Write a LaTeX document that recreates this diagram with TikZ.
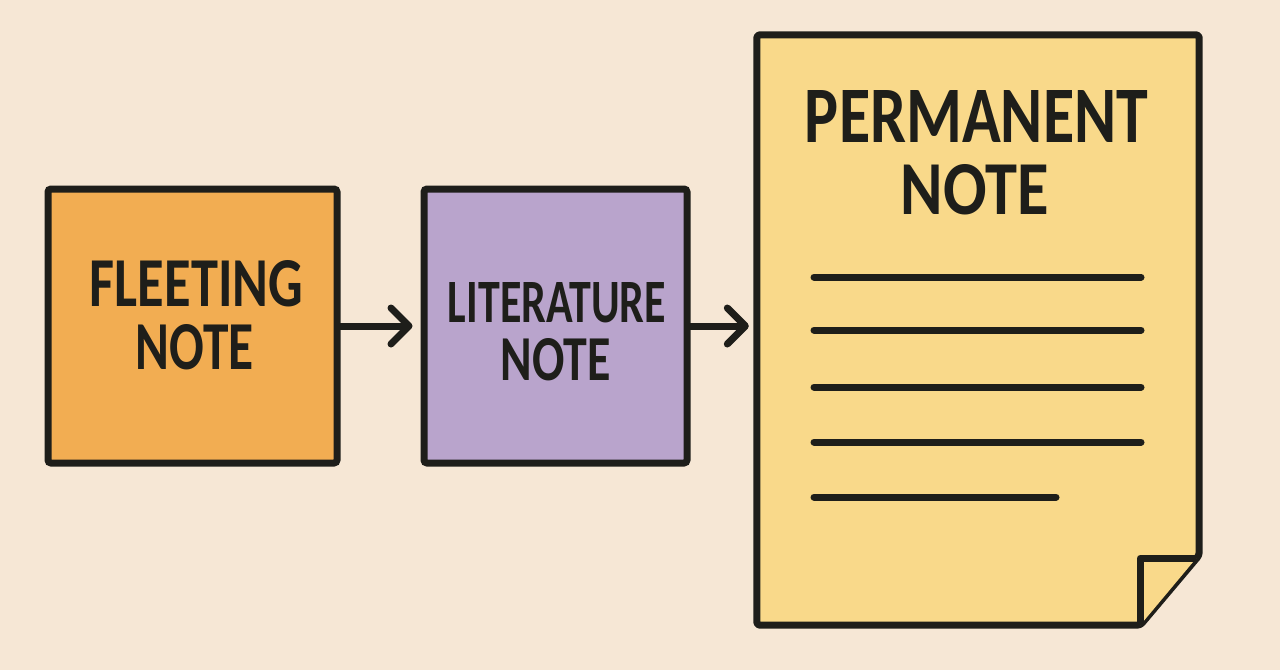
\documentclass[tikz,border=0pt]{standalone}
\usepackage{fontspec}
\setmainfont{Carlito}
\usepackage{graphicx}
\usetikzlibrary{arrows.meta}
\definecolor{bg}{HTML}{F6E7D5}
\definecolor{ink}{HTML}{1E1E1A}
\definecolor{fleetfill}{HTML}{F2AD52}
\definecolor{litfill}{HTML}{B9A4CC}
\definecolor{permfill}{HTML}{F9D98A}
\newcommand{\capt}[3]{\resizebox{#1pt}{#2pt}{\bfseries #3}}
\begin{document}
\begin{tikzpicture}[x=1pt,y=-1pt,
  card/.style={draw=ink,line width=7pt,rounded corners=3pt,inner sep=0pt},
  lbl/.style={inner sep=0pt,text=ink},
  flow/.style={draw=ink,line width=7pt,line cap=round,-{Straight Barb[length=18pt,width=36pt,line cap=round,round]}},
  rule/.style={draw=ink,line width=7pt,line cap=round}]
\fill[bg] (0,0) rectangle (1280,670);
\useasboundingbox (0,0) rectangle (1280,670);
% cards
\node[card,fill=fleetfill,minimum width=289pt,minimum height=274pt] (fleet) at (192.5,326) {};
\node[card,fill=litfill,minimum width=263pt,minimum height=274pt] (lit) at (555.5,326) {};
\node[inner sep=0pt,minimum width=442pt,minimum height=590pt] (perm) at (978,330) {};
\draw[ink,line width=7pt,line join=round,rounded corners=3pt,fill=permfill]
  (perm.north west) -- (perm.north east) -- ([yshift=70pt]perm.south east)
  -- ([xshift=-59pt]perm.south east) -- (perm.south west) -- cycle;
\draw[ink,line width=7pt,line join=round,fill=permfill]
  ([xshift=-59pt]perm.south east) -- ([xshift=-59pt,yshift=67pt]perm.south east)
  -- ([xshift=-3pt,yshift=67pt]perm.south east);
% labels
\node[lbl] (fleet1) at (196.5,283.5) {\capt{213}{46}{FLEETING}};
\node[lbl] (fleet2) at (195,347.5) {\capt{118}{45}{NOTE}};
\node[lbl] (lit1) at (557,303) {\capt{218}{40}{LITERATURE}};
\node[lbl] (lit2) at (556,360) {\capt{110}{42}{NOTE}};
\node[lbl] (perm1) at (976.5,116) {\capt{343}{52}{PERMANENT}};
\node[lbl] (perm2) at (975,190) {\capt{148}{50}{NOTE}};
% text lines
\coordinate (l1a) at (814,277); \coordinate (l1b) at (1141,277);
\coordinate (l2a) at (814,330); \coordinate (l2b) at (1141,330);
\coordinate (l3a) at (814,387); \coordinate (l3b) at (1141,387);
\coordinate (l4a) at (814,442); \coordinate (l4b) at (1141,442);
\coordinate (l5a) at (814,497); \coordinate (l5b) at (1056,497);
\draw[rule] (l1a) -- (l1b);
\draw[rule] (l2a) -- (l2b);
\draw[rule] (l3a) -- (l3b);
\draw[rule] (l4a) -- (l4b);
\draw[rule] (l5a) -- (l5b);
% arrows
\draw[flow] (fleet.east) -- ([xshift=-8pt]lit.west);
\draw[flow] (lit.east) -- ([xshift=-8pt]perm.west |- lit.east);
\end{tikzpicture}
\end{document}
